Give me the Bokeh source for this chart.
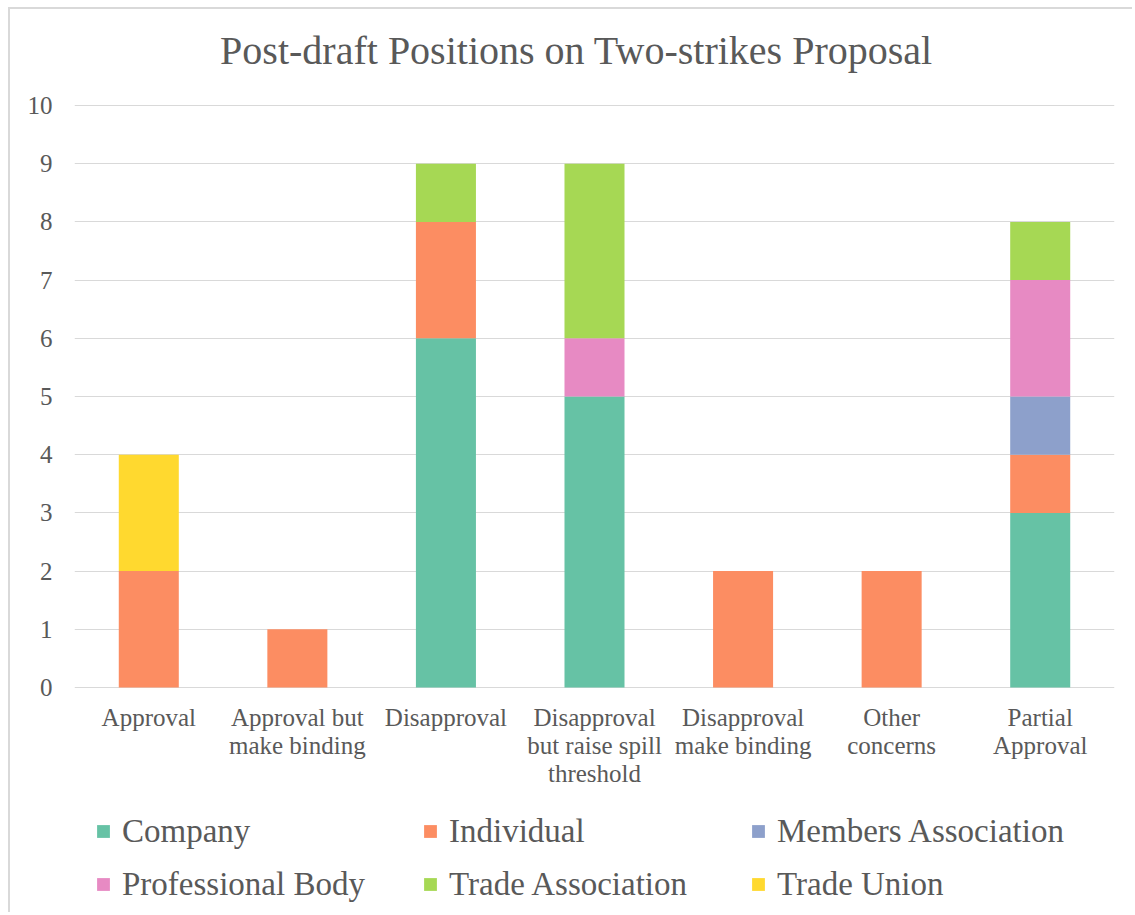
from bokeh.plotting import figure
from bokeh.models import Legend, LegendItem, FactorRange, Label
from bokeh.core.properties import value
from bokeh.embed import file_html
from bokeh.resources import INLINE

categories = ["Approval", "Approval but make binding", "Disapproval",
              "Disapproval but raise spill threshold", "Disapproval make binding",
              "Other concerns", "Partial Approval"]
label_line1 = ["Approval", "Approval but", "Disapproval", "Disapproval",
               "Disapproval", "Other", "Partial"]
label_line2 = ["", "make binding", "", "but raise spill", "make binding",
               "concerns", "Approval"]
label_line3 = ["", "", "", "threshold", "", "", ""]
series = ["Company", "Individual", "Members Association",
          "Professional Body", "Trade Association", "Trade Union"]
company = [0, 0, 6, 5, 0, 0, 3]
individual = [2, 1, 2, 0, 2, 2, 1]
members_association = [0, 0, 0, 0, 0, 0, 1]
professional_body = [0, 0, 0, 1, 0, 0, 2]
trade_association = [0, 0, 1, 3, 0, 0, 1]
trade_union = [2, 0, 0, 0, 0, 0, 0]
colors = ["#66c2a5", "#fc8d62", "#8da0cb", "#e78ac3", "#a6d854", "#ffd92f"]
y_ticks = list(range(0, 11))
title_text = "Post-draft Positions on Two-strikes Proposal"

FONT = "Liberation Serif"
TXT = "#595959"

# canvas geometry (pixels)
W, H = 1124, 905
PLOT_TOP, PLOT_BOTTOM = 96, 678      # where y=10 and y=0 sit on the canvas
UNIT = (PLOT_BOTTOM - PLOT_TOP) / 10.0
y_start = -(H - PLOT_BOTTOM) / UNIT
y_end = 10 + PLOT_TOP / UNIT

p = figure(x_range=FactorRange(*categories), y_range=(y_start, y_end),
           width=W, height=H, output_backend="svg", toolbar_location=None,
           x_axis_location=None,
           min_border_left=64, min_border_right=20, min_border_top=0,
           min_border_bottom=0)
p.margin = (7, 0, 0, 8)
p.styles = {"border-left": "2px solid #d9d9d9", "border-top": "2px solid #d9d9d9"}
p.outline_line_color = None
p.background_fill_color = "white"
p.border_fill_color = "white"
p.x_range.range_padding = 0
p.x_range.factor_padding = 0

data = dict(x=categories, Company=company, Individual=individual,
            **{"Members Association": members_association,
               "Professional Body": professional_body,
               "Trade Association": trade_association,
               "Trade Union": trade_union})
renderers = p.vbar_stack(series, x="x", width=0.404, color=colors, source=data,
                         line_color=None)

p.xgrid.grid_line_color = None
p.ygrid.grid_line_color = "#d9d9d9"
p.ygrid.grid_line_width = 1
p.yaxis.ticker = y_ticks
p.yaxis.bounds = (0, 10)
p.yaxis.axis_line_color = None
p.yaxis.major_tick_line_color = None
p.yaxis.minor_tick_line_color = None
p.yaxis.major_tick_out = 0
p.yaxis.major_tick_in = 0
p.yaxis.major_label_standoff = 22
p.yaxis.major_label_text_align = "right"
p.yaxis.major_label_text_font = FONT
p.yaxis.major_label_text_font_size = "25px"
p.yaxis.major_label_text_color = TXT

# category labels (three lines)
for lines, off in ((label_line1, 30), (label_line2, 58), (label_line3, 86)):
    p.text(x=categories, y=[0] * len(categories), text=lines, y_offset=off,
           text_align="center", text_baseline="alphabetic",
           text_font=value(FONT), text_font_size="25px", text_color=TXT)

title = Label(x=502, y=H - 41, x_units="screen", y_units="screen",
              text=title_text, text_font=FONT, text_font_size="40px",
              text_color=TXT, text_align="center", text_baseline="alphabetic")
p.add_layout(title)

cols = [[0, 3], [1, 4], [2, 5]]
xs = [21, 348, 676]
for col, x0 in zip(cols, xs):
    items = [LegendItem(label=series[i], renderers=[renderers[i]]) for i in col]
    lg = Legend(items=items, location=(x0, 11), orientation="vertical",
                label_text_font=FONT, label_text_font_size="33px",
                label_text_color=TXT, glyph_width=16, glyph_height=16,
                label_height=38, spacing=15, padding=0, margin=0,
                label_standoff=11, border_line_color=None,
                background_fill_alpha=0)
    p.add_layout(lg, "center")

open("out.html", "w").write(file_html(p, INLINE))
